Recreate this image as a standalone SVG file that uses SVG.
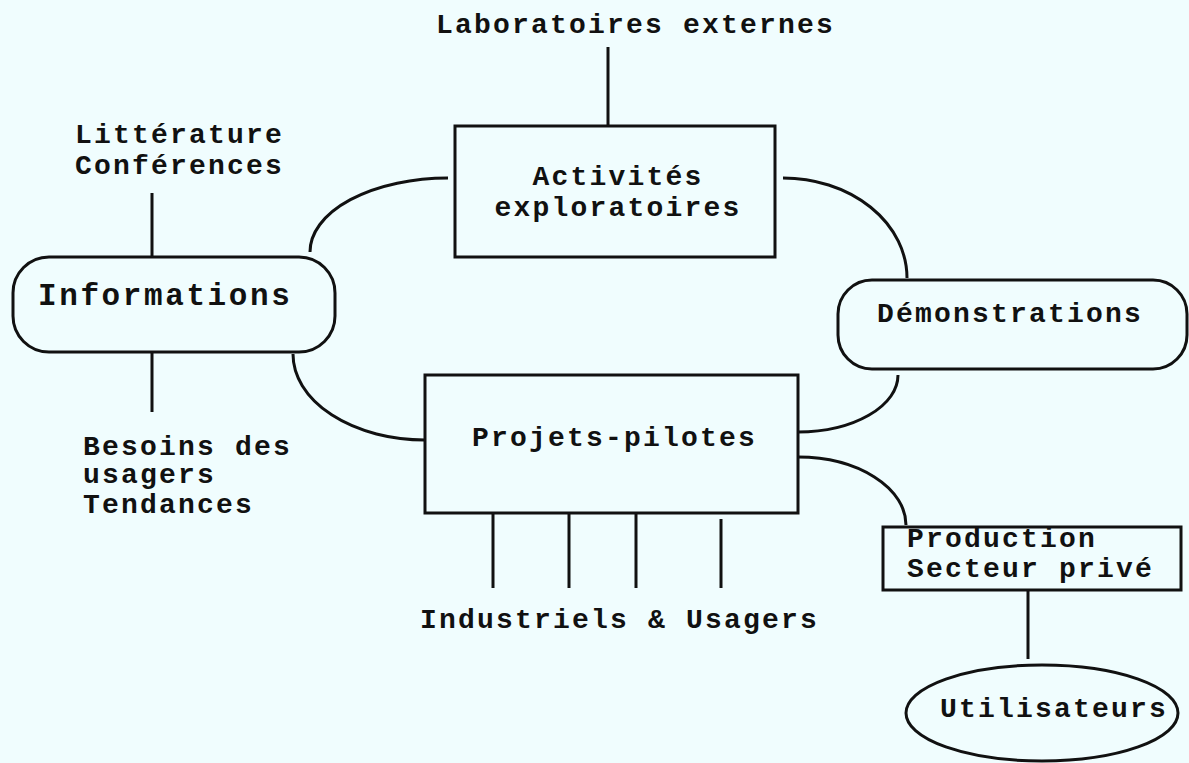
<svg xmlns="http://www.w3.org/2000/svg" width="1189" height="763" viewBox="0 0 1189 763">
<style>
.bg{fill:#f0fdfe}
.box{fill:none;stroke:#111;stroke-width:3}
.ln{fill:none;stroke:#111;stroke-width:3}
.t{font-family:"Liberation Mono","Courier New",monospace;font-weight:bold;font-size:28px;letter-spacing:2.2px;fill:#111}
.tb{font-size:31px;letter-spacing:2.6px}
</style>
<rect class="bg" x="0" y="0" width="1189" height="763"/>
<g id="connectors">
<line class="ln" x1="608" y1="47" x2="608" y2="126"/>
<line class="ln" x1="152" y1="193" x2="152" y2="257"/>
<line class="ln" x1="152" y1="352" x2="152" y2="412"/>
<path class="ln" d="M310,252 A138,74 0 0 1 448,178"/>
<path class="ln" d="M293,354 A132,86 0 0 0 425,440"/>
<path class="ln" d="M783,178 A124,100 0 0 1 907,278"/>
<path class="ln" d="M898,375 A100,57 0 0 1 798,432"/>
<path class="ln" d="M798,457 A108,68 0 0 1 906,525"/>
<line class="ln" x1="493" y1="513" x2="493" y2="588"/>
<line class="ln" x1="569" y1="513" x2="569" y2="588"/>
<line class="ln" x1="636" y1="513" x2="636" y2="588"/>
<line class="ln" x1="721" y1="519" x2="721" y2="588"/>
<line class="ln" x1="1028" y1="590" x2="1028" y2="659"/>
</g>
<g id="laboratoires">
<text class="t" x="436" y="33">Laboratoires externes</text>
</g>
<g id="litterature">
<text class="t" x="75" y="143">Littérature</text>
<text class="t" x="75" y="174">Conférences</text>
</g>
<g id="informations">
<rect class="box" x="13" y="257" width="322" height="95" rx="36" ry="36"/>
<text class="t tb" x="38" y="305">Informations</text>
</g>
<g id="besoins">
<text class="t" x="83" y="455">Besoins des</text>
<text class="t" x="83" y="483">usagers</text>
<text class="t" x="83" y="513">Tendances</text>
</g>
<g id="activites">
<rect class="box" x="455" y="126" width="320" height="131"/>
<text class="t" x="618" y="185" text-anchor="middle">Activités</text>
<text class="t" x="618" y="216" text-anchor="middle">exploratoires</text>
</g>
<g id="demonstrations">
<rect class="box" x="838" y="280" width="349" height="89" rx="34" ry="34"/>
<text class="t" x="877" y="322">Démonstrations</text>
</g>
<g id="projets">
<rect class="box" x="425" y="375" width="373" height="138"/>
<text class="t" x="472" y="446">Projets-pilotes</text>
</g>
<g id="industriels">
<text class="t" x="420" y="628">Industriels &amp; Usagers</text>
</g>
<g id="production">
<rect class="box" x="883" y="527" width="298" height="63"/>
<text class="t" x="907" y="547">Production</text>
<text class="t" x="907" y="577">Secteur privé</text>
</g>
<g id="utilisateurs">
<ellipse class="box" cx="1042" cy="713" rx="136" ry="48"/>
<text class="t" x="940" y="717">Utilisateurs</text>
</g>
</svg>
